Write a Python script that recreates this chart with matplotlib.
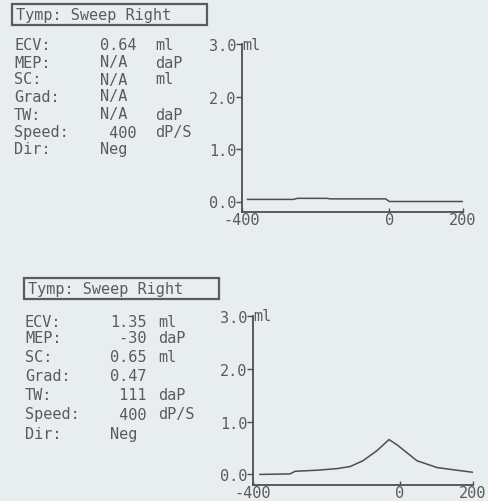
"""Tympanometry printout (two sweeps) recreated with matplotlib."""

import matplotlib
matplotlib.use('Agg')
import matplotlib.pyplot as plt
from matplotlib.patches import Rectangle

W, H = 488, 502
BG = '#e8edef'
INK = '#5b5b5b'
LINE = '#4e4e4e'
MONO = 'DejaVu Sans Mono'
FS = 11

# ─── Data ────────────────────────────────────────────────────────────────
field_labels = ['ECV:', 'MEP:', 'SC:', 'Grad:', 'TW:', 'Speed:', 'Dir:']

top_values = ['0.64', 'N/A', 'N/A', 'N/A', 'N/A', ' 400', 'Neg']
top_units = ['ml', 'daP', 'ml', '', 'daP', 'dP/S', '']
top_pressure = [-385, -260, -250, -170, -160, -10, 0, 200]
top_volume = [0.04, 0.04, 0.06, 0.06, 0.05, 0.05, 0.0, 0.0]

bot_values = ['1.35', ' -30', '0.65', '0.47', ' 111', ' 400', 'Neg']
bot_units = ['ml', 'daP', 'ml', '', 'daP', 'dP/S', '']
bot_pressure = [-381, -299, -285, -225, -171, -135, -100, -62, -29, -7,
                47, 102, 156, 200]
bot_volume = [0.0, 0.01, 0.06, 0.08, 0.11, 0.15, 0.26, 0.45, 0.66, 0.56,
              0.26, 0.13, 0.08, 0.04]

y_ticks = [0.0, 1.0, 2.0, 3.0]
y_tick_labels = ['0.0', '1.0', '2.0', '3.0']
x_ticks = [-400, 0, 200]
x_tick_labels = ['-400', '0', '200']

title = 'Tymp: Sweep Right'


def fx(x):
    return x / W


def fy(y):
    return 1 - y / H


def draw_panel(fig, box, rows, lab_x, val_x, unit_x, values, units,
               ax_rect, pressure, volume):
    # title box
    x0, y0, x1, y1 = box
    fig.add_artist(Rectangle((fx(x0), fy(y1)), fx(x1) - fx(x0), fy(y0) - fy(y1),
                             transform=fig.transFigure, fill=False,
                             edgecolor=INK, linewidth=1.6))
    fig.text(fx(x0 + 4), fy((y0 + y1) / 2), title, ha='left', va='center',
             family=MONO, fontsize=FS, color=INK)

    # parameter table
    for ry, lab, val, unit in zip(rows, field_labels, values, units):
        fig.text(fx(lab_x), fy(ry), lab, ha='left', va='center',
                 family=MONO, fontsize=FS, color=INK)
        fig.text(fx(val_x), fy(ry), val, ha='left', va='center',
                 family=MONO, fontsize=FS, color=INK)
        if unit:
            fig.text(fx(unit_x), fy(ry), unit, ha='left', va='center',
                     family=MONO, fontsize=FS, color=INK)

    # graph
    l, t, r, b = ax_rect
    ax = fig.add_axes([fx(l), fy(b), fx(r) - fx(l), fy(t) - fy(b)])
    ax.set_facecolor('none')
    ax.plot(pressure, volume, color=LINE, linewidth=1.1)
    ax.set_xlim(-400, 200)
    ax.set_ylim(-0.2, 3.0)
    for s in ('top', 'right'):
        ax.spines[s].set_visible(False)
    for s in ('left', 'bottom'):
        ax.spines[s].set_color(LINE)
        ax.spines[s].set_linewidth(1.3)
    ax.set_yticks(y_ticks)
    ax.set_yticklabels(y_tick_labels, family=MONO, fontsize=FS, color=INK)
    ax.set_xticks(x_ticks)
    ax.set_xticklabels(x_tick_labels, family=MONO, fontsize=FS, color=INK)
    ax.tick_params(axis='y', length=4, width=1, color=LINE, pad=0)
    ax.tick_params(axis='x', length=3, width=1, color=LINE, pad=0,
                   direction='in')
    ax.text(-400, 3.0, 'ml', transform=ax.transData, ha='left', va='center',
            family=MONO, fontsize=FS, color=INK)
    return ax


fig = plt.figure(figsize=(W / 100, H / 100), dpi=100)
fig.patch.set_facecolor(BG)

draw_panel(fig, (12, 5, 207, 26), [45, 63, 80, 97, 115, 133, 150],
           14, 100, 155, top_values, top_units,
           (242, 45, 463, 213), top_pressure, top_volume)

draw_panel(fig, (24, 279, 219, 300), [323, 339, 357, 377, 396, 415, 435],
           25, 110, 158, bot_values, bot_units,
           (253, 317, 473, 486), bot_pressure, bot_volume)

fig.savefig('out.png', dpi=100, facecolor=BG)
